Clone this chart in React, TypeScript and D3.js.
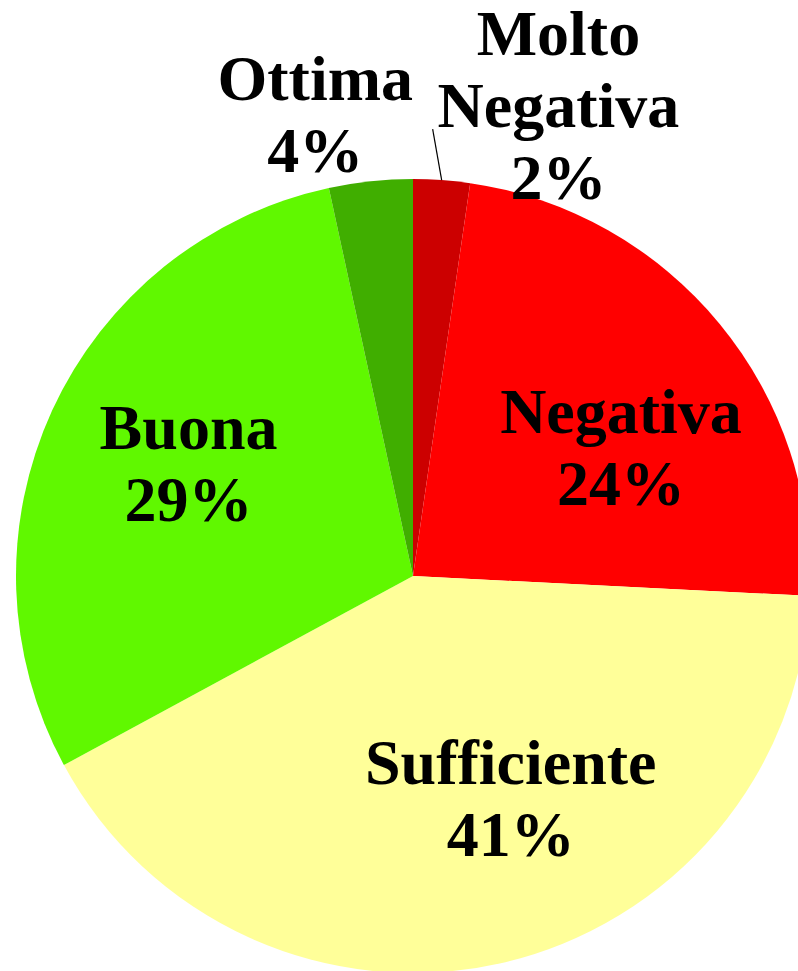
import React, { useRef, useEffect } from "react";
import * as d3 from "d3";

const categories = ["Molto Negativa", "Negativa", "Sufficiente", "Buona", "Ottima"];
const values = [2.3, 23.5, 41.3, 29.5, 3.4];
const percentLabels = ["2%", "24%", "41%", "29%", "4%"];
const colors = ["#cc0000", "#ff0000", "#ffff99", "#60f800", "#40ae00"];

// label placement: inside labels sit near the centroid, small ones go outside
const labelLayout = [
  { outside: true, lines: ["Molto", "Negativa"], dx: 111, dy: 5 },
  { outside: false, lines: ["Negativa"], dx: 24, dy: 23 },
  { outside: false, lines: ["Sufficiente"], dx: 45, dy: -10 },
  { outside: false, lines: ["Buona"], dx: -8, dy: -13 },
  { outside: true, lines: ["Ottima"], dx: -47, dy: 12 },
];

const W = 798;
const H = 971;
const cx = 413;
const cy = 576;
const R = 397;
const fontSize = 64;
const lineH = 72;

const App = () => {
  const svgRef = useRef(null);

  useEffect(() => {
    document.body.style.margin = "0";
    const svg = d3.select(svgRef.current);
    svg.selectAll("*").remove();

    const pie = d3.pie().value((d) => d).sort(null);
    const arcs = pie(values);
    const arc = d3.arc().innerRadius(0).outerRadius(R);
    const labelArc = d3.arc().innerRadius(R * 0.6).outerRadius(R * 0.6);
    const outerArc = d3.arc().innerRadius(R * 1.2).outerRadius(R * 1.2);
    const edgeArc = d3.arc().innerRadius(R).outerRadius(R);

    const g = svg.append("g").attr("transform", `translate(${cx},${cy})`);

    g.selectAll(".slice")
      .data(arcs)
      .join("path")
      .attr("class", "slice")
      .attr("d", arc)
      .attr("fill", (d, i) => colors[i]);

    // leader line for the tiny top slice
    const edge = edgeArc.centroid(arcs[0]);
    g.append("line")
      .attr("x1", edge[0])
      .attr("y1", edge[1])
      .attr("x2", edge[0] - 9)
      .attr("y2", edge[1] - 51)
      .attr("stroke", "#000")
      .attr("stroke-width", 1.2);

    arcs.forEach((a, i) => {
      const lay = labelLayout[i];
      const c = lay.outside ? outerArc.centroid(a) : labelArc.centroid(a);
      const x = c[0] + lay.dx;
      const y = c[1] + lay.dy;
      const lines = [...lay.lines, percentLabels[i]];
      const y0 = y - ((lines.length - 1) * lineH) / 2 + 21.5;
      const t = g
        .append("text")
        .attr("text-anchor", "middle")
        .attr("font-family", "'Liberation Serif', 'Times New Roman', serif")
        .attr("font-weight", "bold")
        .attr("font-size", fontSize)
        .attr("fill", "#000");
      lines.forEach((ln, k) => {
        t.append("tspan").attr("x", x).attr("y", y0 + k * lineH).text(ln);
      });
    });
  }, []);

  return (
    <svg ref={svgRef} width={W} height={H} style={{ display: "block", background: "#fff" }} />
  );
};

export default App;
